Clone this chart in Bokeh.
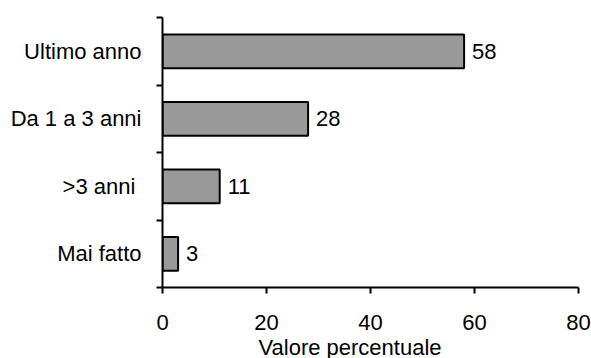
from bokeh.plotting import figure
from bokeh.models import FixedTicker, Range1d, ColumnDataSource, LabelSet, Title
from bokeh.core.properties import value
from bokeh.embed import file_html
from bokeh.resources import INLINE

categories = ["Mai fatto", ">3 anni\u00a0", "Da 1 a 3 anni", "Ultimo anno"]
values = [3, 11, 28, 58]
x_ticks = [0, 20, 40, 60, 80]

FONT = "Liberation Sans"
FS = "22px"

pos = [i + 0.5 for i in range(len(categories))]
src = ColumnDataSource(dict(y=pos, v=values, t=[str(v) for v in values]))

p = figure(frame_width=416, frame_height=270, output_backend="svg", toolbar_location=None,
           x_range=Range1d(0, 80), y_range=Range1d(0, len(categories)),
           min_border_left=162, min_border_top=17, min_border_right=13, min_border_bottom=20)
p.outline_line_color = None
p.grid.visible = False
p.background_fill_color = None
p.border_fill_color = None

p.hbar(y="y", right="v", left=0, height=0.5, source=src,
       fill_color="#999999", line_color="black", line_width=2)

labels = LabelSet(x="v", y="y", text="t", source=src, x_offset=8, y_offset=0,
                  text_font=value(FONT), text_font_size=value(FS), text_baseline="middle",
                  text_color="black")
p.add_layout(labels)

xa = p.xaxis[0]
xa.ticker = FixedTicker(ticks=x_ticks, minor_ticks=[])
xa.axis_line_width = 2
xa.axis_line_color = "black"
xa.major_tick_line_width = 2
xa.major_tick_out = 6
xa.major_tick_in = 0
xa.minor_tick_line_color = None
xa.major_label_text_font = FONT
xa.major_label_text_font_size = FS
xa.major_label_text_color = "black"
xa.major_label_standoff = 21

ya = p.yaxis[0]
ya.ticker = FixedTicker(ticks=pos, minor_ticks=list(range(len(categories) + 1)))
ya.major_label_overrides = {pv: c for pv, c in zip(pos, categories)}
ya.axis_line_width = 2
ya.axis_line_color = "black"
ya.major_tick_line_color = None
ya.major_tick_out = 0
ya.major_tick_in = 0
ya.minor_tick_line_width = 2
ya.minor_tick_out = 6
ya.minor_tick_in = 0
ya.major_label_text_font = FONT
ya.major_label_text_font_size = FS
ya.major_label_text_color = "black"
ya.major_label_standoff = 15

t = Title(text="Valore percentuale", align="left", offset=96, standoff=0,
          text_font=FONT, text_font_size=FS, text_font_style="normal", text_color="black")
p.add_layout(t, "below")

open("out.html", "w").write(file_html(p, INLINE))
